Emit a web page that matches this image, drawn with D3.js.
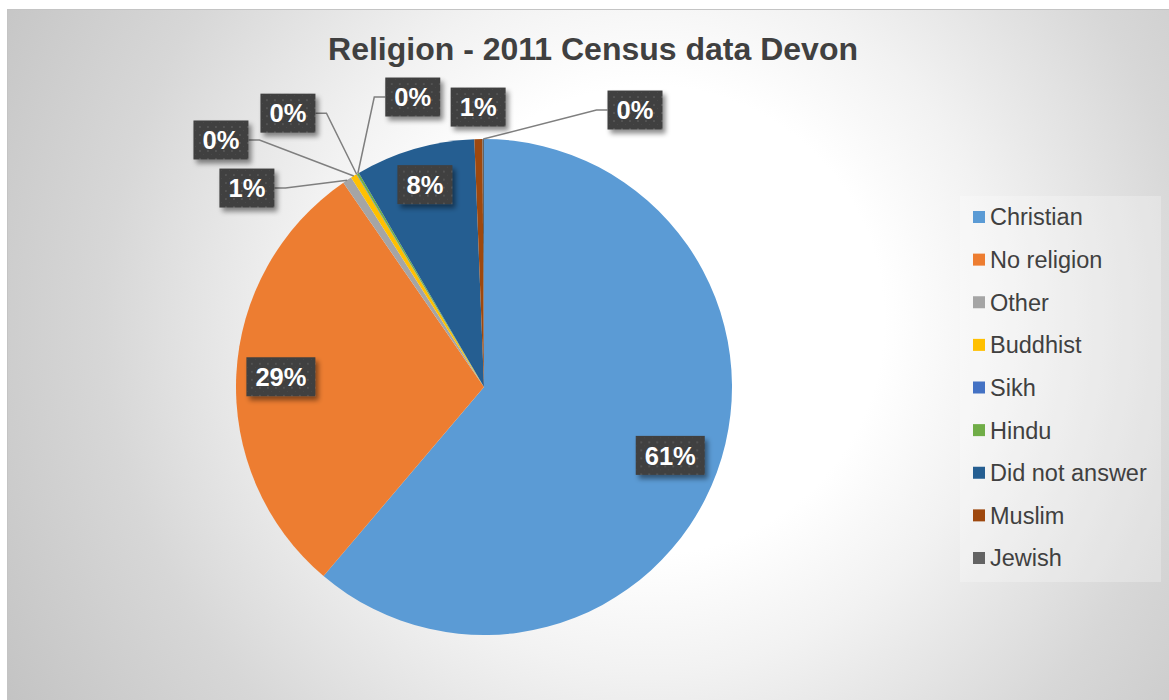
<!DOCTYPE html>
<html>
<head>
<meta charset="utf-8">
<title>Religion - 2011 Census data Devon</title>
<script src="https://cdn.jsdelivr.net/npm/d3@7"></script>
<style>
  html, body { margin: 0; padding: 0; background: #ffffff; }
  svg { display: block; font-family: "Liberation Sans", Arial, Helvetica, sans-serif; }
</style>
</head>
<body>
<svg id="chart" width="1169" height="700"></svg>
<script>
// Religion of usual residents, Devon, 2011 Census (share of population, %)
const categories = ["Christian", "No religion", "Other", "Buddhist", "Sikh", "Hindu", "Did not answer", "Muslim", "Jewish"];
const shares     = [61.2, 29.2, 0.6, 0.4, 0.03, 0.15, 7.8, 0.52, 0.1];
const colours    = ["#5B9BD5", "#ED7D31", "#A5A5A5", "#FFC000", "#4472C4", "#70AD47", "#255E91", "#9E480E", "#636363"];
const title      = "Religion - 2011 Census data Devon";

// Where each data label sits: inside the slice (fraction of the radius along the
// slice bisector) or outside (polar angle in degrees, fraction of the radius).
const labelLayout = [
  { mode: "inside", rf: 0.80 },
  { mode: "inside", rf: 0.82 },
  { mode: "outside", angle: 310.0, rf: 1.248 },
  { mode: "outside", angle: 313.2, rf: 1.455 },
  { mode: "outside", angle: 324.4, rf: 1.358 },
  { mode: "outside", angle: 346.2, rf: 1.204 },
  { mode: "inside", rf: 0.85 },
  { mode: "outside", angle: 358.8, rf: 1.129 },
  { mode: "outside", angle: 28.6, rf: 1.272 }
];

const W = 1169, H = 700;
const cx = 484, cy = 387, R = 248;

const svg = d3.select("#chart");
const defs = svg.append("defs");

// Chart-area background: soft radial grey gradient
const bg = defs.append("radialGradient")
  .attr("id", "bgGrad")
  .attr("gradientUnits", "userSpaceOnUse")
  .attr("cx", 650).attr("cy", 320).attr("r", 780);
[[0, "#ffffff"], [0.3, "#ffffff"], [0.45, "#f2f2f2"], [0.7, "#d7d7d7"], [1, "#c0c0c0"]]
  .forEach(([o, c]) => bg.append("stop").attr("offset", o).attr("stop-color", c));

// Dotted dark fill for the data label boxes
const pat = defs.append("pattern")
  .attr("id", "dots")
  .attr("patternUnits", "userSpaceOnUse")
  .attr("width", 8).attr("height", 8);
pat.append("rect").attr("width", 8).attr("height", 8).attr("fill", "#3f3f3f");
pat.append("rect").attr("x", 2).attr("y", 2).attr("width", 2).attr("height", 2).attr("fill", "#525252");
pat.append("rect").attr("x", 6).attr("y", 6).attr("width", 1).attr("height", 1).attr("fill", "#4a4a4a");

// Drop shadow for the label boxes
const sh = defs.append("filter").attr("id", "shadow")
  .attr("x", "-30%").attr("y", "-30%").attr("width", "170%").attr("height", "180%");
sh.append("feDropShadow")
  .attr("dx", 3).attr("dy", 4).attr("stdDeviation", 2.5)
  .attr("flood-color", "#000").attr("flood-opacity", 0.45);

// Chart area
svg.append("rect")
  .attr("x", 7.5).attr("y", 9.5)
  .attr("width", W).attr("height", H)
  .attr("fill", "url(#bgGrad)")
  .attr("stroke", "#c4c4c4").attr("stroke-width", 1);

// Title
svg.append("text")
  .attr("x", 593).attr("y", 60)
  .attr("text-anchor", "middle")
  .attr("font-size", 32).attr("font-weight", "bold")
  .attr("fill", "#404040")
  .text(title);

// Pie
const data = categories.map((c, i) => ({ name: c, value: shares[i], colour: colours[i], layout: labelLayout[i] }));
const total = d3.sum(shares);
const pie = d3.pie().sort(null).value(d => d.value);
const arcs = pie(data);
const arc = d3.arc().innerRadius(0).outerRadius(R);

const g = svg.append("g").attr("transform", `translate(${cx},${cy})`);
g.selectAll("path.slice")
  .data(arcs)
  .join("path")
  .attr("class", "slice")
  .attr("d", arc)
  .attr("fill", d => d.data.colour);

const pct = d => Math.round(d.data.value / total * 100) + "%";
const polar = (angleRad, r) => [r * Math.sin(angleRad), -r * Math.cos(angleRad)];

// Leader lines and label boxes
const leaders = g.append("g");
const labels = g.append("g");
const boxH = 39, padX = 9;

arcs.forEach(d => {
  const L = d.data.layout;
  const mid = (d.startAngle + d.endAngle) / 2;
  const [lx, ly] = L.mode === "inside"
    ? polar(mid, R * L.rf)
    : polar(L.angle * Math.PI / 180, R * L.rf);

  const lg = labels.append("g").attr("transform", `translate(${lx},${ly})`);
  const box = lg.append("rect").attr("fill", "url(#dots)").attr("filter", "url(#shadow)");
  const t = lg.append("text")
    .attr("text-anchor", "middle")
    .attr("dy", "0.36em")
    .attr("font-size", 25.5).attr("font-weight", "bold")
    .attr("fill", "#ffffff")
    .text(pct(d));
  const tw = t.node().getComputedTextLength();
  const bw = Math.round(tw + 2 * padX);
  box.attr("x", -bw / 2).attr("y", -boxH / 2).attr("width", bw).attr("height", boxH);

  if (L.mode === "outside") {
    const [px, py] = polar(mid, R);
    const left = lx - bw / 2, right = lx + bw / 2;
    if (px >= left && px <= right) return; // label sits right above its slice
    const stub = 11;
    let pts;
    if (px > right) {
      pts = [[right, ly], [right + stub, ly], [px, py]];
    } else {
      pts = [[left, ly], [left - stub, ly], [px, py]];
    }
    leaders.append("path")
      .attr("d", d3.line()(pts))
      .attr("fill", "none")
      .attr("stroke", "#7f7f7f")
      .attr("stroke-width", 1.5);
  }
});

// Legend
const legend = svg.append("g");
legend.append("rect")
  .attr("x", 960).attr("y", 196)
  .attr("width", 201).attr("height", 386)
  .attr("fill", "#ffffff").attr("fill-opacity", 0.25);

const rowY = d3.scalePoint().domain(categories).range([217, 558]);
const rows = legend.selectAll("g.item")
  .data(data)
  .join("g")
  .attr("class", "item")
  .attr("transform", d => `translate(0,${rowY(d.name)})`);
rows.append("rect")
  .attr("x", 973).attr("y", -6)
  .attr("width", 12).attr("height", 12)
  .attr("fill", d => d.colour);
rows.append("text")
  .attr("x", 990).attr("dy", "0.36em")
  .attr("font-size", 23.5)
  .attr("fill", "#404040")
  .text(d => d.name);
</script>
</body>
</html>
